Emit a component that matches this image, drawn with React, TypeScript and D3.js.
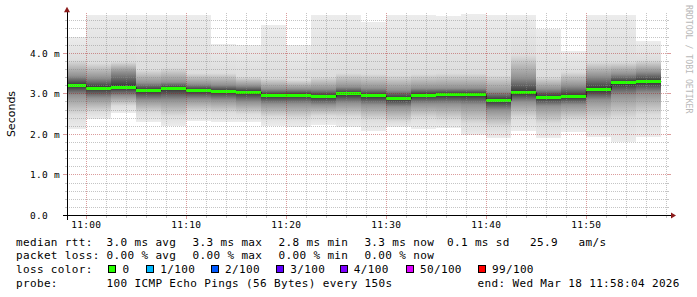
import React from 'react';
import * as d3 from 'd3';

// ---- data ----
const windowStart = "10:58:04";
const windowEnd = "11:58:04";
const stepSeconds = 150;
const stepEnds = [
  "11:00:00", "11:02:30", "11:05:00", "11:07:30", "11:10:00", "11:12:30",
  "11:15:00", "11:17:30", "11:20:00", "11:22:30", "11:25:00", "11:27:30",
  "11:30:00", "11:32:30", "11:35:00", "11:37:30", "11:40:00", "11:42:30",
  "11:45:00", "11:47:30", "11:50:00", "11:52:30", "11:55:00", "11:57:30",
];
// rtt quantiles in ms
const rttMax = [4.39, 4.94, 4.94, 4.94, 4.94, 4.94, 4.22, 4.20, 4.70, 4.20, 4.94, 4.94, 4.78, 4.94, 4.94, 4.92, 4.96, 4.94, 4.94, 4.60, 4.06, 4.94, 4.94, 4.30];
const rttP95 = [3.83, 3.76, 3.79, 3.59, 3.64, 3.51, 3.51, 3.42, 3.39, 3.34, 3.42, 3.51, 3.49, 3.46, 3.49, 3.51, 3.51, 3.46, 3.96, 3.42, 3.54, 3.79, 3.79, 3.83];
const rttP75 = [3.44, 3.39, 3.54, 3.27, 3.29, 3.24, 3.22, 3.20, 3.12, 3.12, 3.12, 3.17, 3.14, 3.09, 3.14, 3.14, 3.14, 3.05, 3.39, 3.12, 3.20, 3.44, 3.49, 3.54];
const rttMedian = [3.21, 3.14, 3.16, 3.08, 3.13, 3.08, 3.06, 3.04, 2.96, 2.97, 2.93, 3.00, 2.95, 2.88, 2.97, 2.98, 2.98, 2.84, 3.03, 2.91, 2.93, 3.10, 3.27, 3.30];
const rttP25 = [2.97, 2.90, 2.95, 2.85, 2.85, 2.87, 2.85, 2.80, 2.75, 2.75, 2.73, 2.77, 2.73, 2.68, 2.75, 2.75, 2.73, 2.60, 2.80, 2.70, 2.73, 2.85, 2.97, 3.02];
const rttP5 = [2.48, 2.55, 2.70, 2.53, 2.45, 2.55, 2.53, 2.50, 2.43, 2.40, 2.45, 2.43, 2.36, 2.31, 2.40, 2.36, 2.26, 2.18, 2.40, 2.26, 2.36, 2.36, 2.40, 2.48];
const rttMin = [2.14, 2.39, 2.53, 2.31, 2.20, 2.33, 2.30, 2.31, 2.21, 2.18, 2.24, 2.18, 2.08, 2.18, 2.14, 2.16, 1.98, 1.91, 2.08, 1.91, 2.06, 1.94, 1.81, 1.94];
const quantileRanks = [100, 95, 75, 50, 25, 5, 0];

const yTickValues = [0, 1, 2, 3, 4];
const yTickLabels = ["0.0", "1.0 m", "2.0 m", "3.0 m", "4.0 m"];
const xTickLabels = ["11:00", "11:10", "11:20", "11:30", "11:40", "11:50"];

const legendLine1 = [
  { x: 16, t: "median rtt:" }, { x: 106.6, t: "3.0 ms avg" }, { x: 192.6, t: "3.3 ms max" },
  { x: 278.6, t: "2.8 ms min" }, { x: 364.4, t: "3.3 ms now" }, { x: 447, t: "0.1 ms sd" },
  { x: 530, t: "25.9" }, { x: 578.6, t: "am/s" },
];
const legendLine2 = [
  { x: 16, t: "packet loss:" }, { x: 106.6, t: "0.00 % avg" }, { x: 192.6, t: "0.00 % max" },
  { x: 278.6, t: "0.00 % min" }, { x: 364.4, t: "0.00 % now" },
];
const lossLabels = ["0", "1/100", "2/100", "3/100", "4/100", "50/100", "99/100"];
const lossColors = ["#26ff00", "#00b8ff", "#0059ff", "#5e00ff", "#7e00ff", "#dd00ff", "#ff0000"];
const lossBoxX = [108.3, 146, 210.8, 276, 339.5, 405.7, 477.7];
const legendLine4 = [
  { x: 16, t: "probe:" }, { x: 106.6, t: "100 ICMP Echo Pings (56 Bytes) every 150s" },
  { x: 477.6, t: "end: Wed Mar 18 11:58:04 2026" },
];

const toSec = (s: string) => {
  const p = s.split(':').map(Number);
  return p[0] * 3600 + p[1] * 60 + (p[2] || 0);
};

const grey = (r: number) => {
  const d = Math.max(1, Math.min(r, 100 - r));
  const c = Math.round(50 + (190 / 50) * (50 - d));
  return `rgb(${c},${c},${c})`;
};

const MONO = "'DejaVu Sans Mono', monospace";

export default function App() {
  const t0 = toSec(windowStart);
  const t1 = toSec(windowEnd);
  const x = d3.scaleLinear().domain([t0, t1]).range([67, 667]);
  const y = d3.scaleLinear().domain([0, 5]).range([215.5, 12.75]);

  const steps = stepEnds.map((e, i) => {
    const end = toSec(e);
    const start = Math.max(t0, end - stepSeconds);
    const qs = [rttMax[i], rttP95[i], rttP75[i], rttMedian[i], rttP25[i], rttP5[i], rttMin[i]];
    return { i, x0: x(start), x1: x(end), qs, med: rttMedian[i] };
  });

  const medianPts: [number, number][] = [];
  steps.forEach(s => { medianPts.push([s.x0, y(s.med)]); medianPts.push([s.x1, y(s.med)]); });
  const medLine = d3.line()(medianPts) || '';

  const minorY = y.ticks(25).filter(v => v > 0 && v < 5 && Math.abs(v - Math.round(v)) > 1e-6);
  const majorY = yTickValues.filter(v => v > 0);
  const gridStart = toSec("11:00:00");
  const vLines = d3.range(gridStart, t1 + 1, 120);
  const minorX = vLines.filter(t => (t - gridStart) % 600 !== 0);
  const majorX = xTickLabels.map(l => toSec(l + ":00"));

  const minorCol = "rgba(140,140,140,0.5)";
  const majorCol = "rgba(170,20,20,0.42)";
  const yTop = y(5);
  const yBot = y(0);

  return (
    <svg width={697} height={297} style={{ position: 'absolute', left: 0, top: 0 }}>
      <rect x={0} y={0} width={697} height={297} fill="#ffffff" />
      <defs>
        {steps.map(s => {
          const top = y(s.qs[0]);
          const bot = y(s.qs[6]);
          return (
            <linearGradient key={s.i} id={`smoke${s.i}`} gradientUnits="userSpaceOnUse" x1={0} x2={0} y1={top} y2={bot}>
              {s.qs.map((q, k) => (
                <stop key={k} offset={(y(q) - top) / (bot - top)} stopColor={grey(quantileRanks[k])} />
              ))}
            </linearGradient>
          );
        })}
      </defs>
      {/* smoke */}
      <g shapeRendering="crispEdges">
        {steps.map(s => (
          <rect key={s.i} x={s.x0} width={s.x1 - s.x0} y={y(s.qs[0])} height={y(s.qs[6]) - y(s.qs[0])} fill={`url(#smoke${s.i})`} />
        ))}
      </g>
      {/* median line */}
      <path d={medLine} fill="none" stroke="#202020" strokeWidth={1} />
      <g shapeRendering="crispEdges">
        {steps.map(s => (
          <rect key={s.i} x={s.x0} width={s.x1 - s.x0} y={y(s.med) - 1.5} height={3} fill={lossColors[0]} />
        ))}
      </g>
      {/* grid */}
      <g shapeRendering="crispEdges" strokeWidth={1}>
        {minorY.map(v => (
          <g key={`my${v}`}>
            <line x1={67} x2={667} y1={y(v)} y2={y(v)} stroke={minorCol} strokeDasharray="1 1" />
            <line x1={65} x2={67} y1={y(v)} y2={y(v)} stroke={minorCol} />
            <line x1={667} x2={669} y1={y(v)} y2={y(v)} stroke={minorCol} />
          </g>
        ))}
        {minorX.map(t => (
          <g key={`mx${t}`}>
            <line x1={x(t)} x2={x(t)} y1={yTop} y2={yBot} stroke={minorCol} strokeDasharray="1 1" />
            <line x1={x(t)} x2={x(t)} y1={yBot} y2={yBot + 2} stroke={minorCol} />
          </g>
        ))}
        {majorY.map(v => (
          <g key={`My${v}`}>
            <line x1={67} x2={667} y1={y(v)} y2={y(v)} stroke={majorCol} strokeDasharray="1 1" />
            <line x1={63} x2={67} y1={y(v)} y2={y(v)} stroke={majorCol} />
            <line x1={667} x2={671} y1={y(v)} y2={y(v)} stroke={majorCol} />
          </g>
        ))}
        {majorX.map(t => (
          <g key={`Mx${t}`}>
            <line x1={x(t)} x2={x(t)} y1={yTop} y2={yBot} stroke={majorCol} strokeDasharray="1 1" />
            <line x1={x(t)} x2={x(t)} y1={yBot} y2={yBot + 3} stroke={majorCol} />
          </g>
        ))}
      </g>
      {/* axes */}
      <g shapeRendering="crispEdges">
        <line x1={63} x2={671} y1={yBot} y2={yBot} stroke="#000" strokeWidth={1} />
        <line x1={67} x2={67} y1={yBot + 4} y2={yTop - 1} stroke="#000" strokeWidth={1} />
      </g>
      <polygon points={`${671},${yBot - 3} ${671},${yBot + 3} ${676},${yBot}`} fill="#8b1a1a" />
      <polygon points={`${64},${yTop - 0.5} ${70},${yTop - 0.5} ${67},${yTop - 6}`} fill="#8b1a1a" />
      {/* y tick labels */}
      <g fontFamily={MONO} fontSize={9.5} letterSpacing={0.28} fill="#000">
        {yTickValues.map((v, k) => (
          <text key={v} x={30} y={y(v) + 3.4} xmlSpace="preserve">{yTickLabels[k]}</text>
        ))}
        {xTickLabels.map(l => (
          <text key={l} x={x(toSec(l + ":00"))} y={227.6} textAnchor="middle">{l}</text>
        ))}
      </g>
      {/* axis title */}
      <text transform="translate(15,114) rotate(-90)" textAnchor="middle" fontFamily="'DejaVu Sans', sans-serif" fontSize={11} fill="#000">Seconds</text>
      {/* watermark */}
      <text transform="translate(685.5,5) rotate(90)" fontFamily={MONO} fontSize={8.2} fill="#b8b8b8">RRDTOOL / TOBI OETIKER</text>
      {/* legend */}
      <g fontFamily={MONO} fontSize={11} letterSpacing={0.35} fill="#000">
        {legendLine1.map(it => <text key={it.x} x={it.x} y={245.6} xmlSpace="preserve">{it.t}</text>)}
        {legendLine2.map(it => <text key={it.x} x={it.x} y={259.2} xmlSpace="preserve">{it.t}</text>)}
        <text x={16} y={273} xmlSpace="preserve">loss color:</text>
        {lossLabels.map((l, k) => (
          <g key={l}>
            <rect x={lossBoxX[k] + 0.5} y={265.5} width={7} height={7} fill={lossColors[k]} stroke="#000" strokeWidth={1} shapeRendering="crispEdges" />
            <text x={lossBoxX[k] + 14.3} y={273}>{l}</text>
          </g>
        ))}
        {legendLine4.map(it => <text key={it.x} x={it.x} y={286.8} xmlSpace="preserve">{it.t}</text>)}
      </g>
    </svg>
  );
}
